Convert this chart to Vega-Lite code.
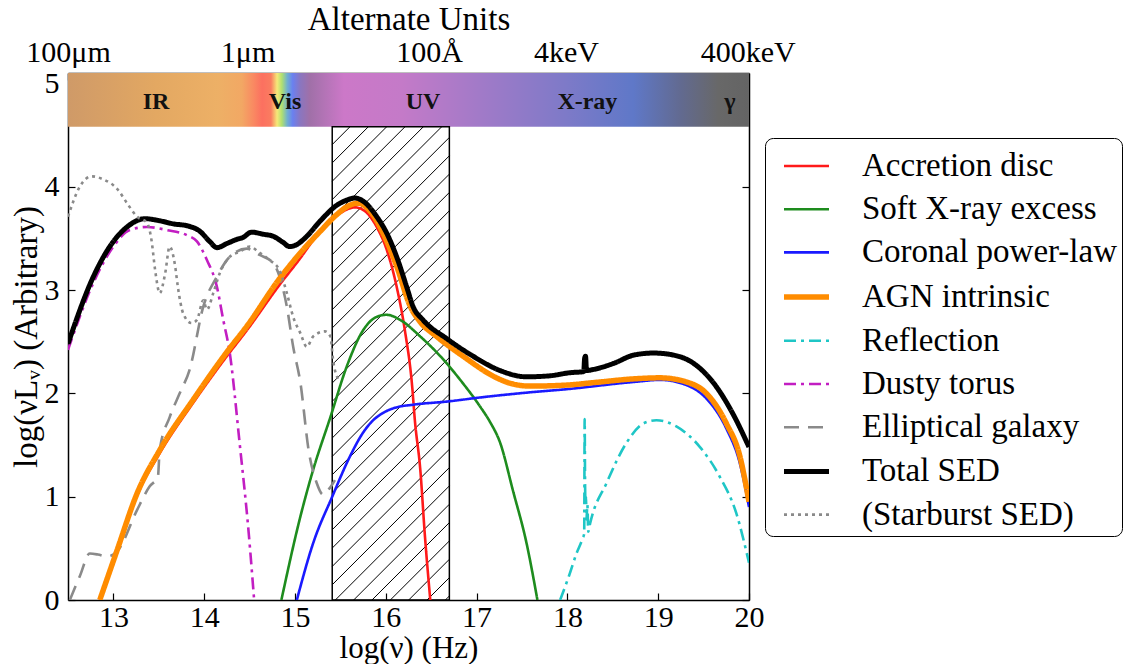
{
  "$schema": "https://vega.github.io/schema/vega-lite/v6.json",
  "width": 681,
  "height": 527,
  "autosize": {"type": "none"},
  "padding": {"left": 68, "top": 73, "right": 387, "bottom": 64},
  "background": "white",
  "config": {
    "view": {"stroke": null},
    "font": "Liberation Serif",
    "axis": {
      "grid": false, "domainColor": "#000", "domainWidth": 1.5,
      "tickColor": "#000", "tickWidth": 1.2, "tickSize": -7,
      "labelColor": "#000", "labelFont": "Liberation Serif", "labelFontSize": 30,
      "titleFont": "Liberation Serif", "titleFontSize": 33, "titleFontWeight": "normal",
      "titleColor": "#000", "labelFlush": false, "labelOverlap": false, "zindex": 1
    },
    "legend": {
      "orient": "none", "legendX": 697, "legendY": 65,
      "padding": 4, "symbolOffset": 12, "labelOffset": 30, "rowPadding": 2.2,
      "labelFont": "Liberation Serif", "labelFontSize": 33, "labelColor": "#000", "labelLimit": 400,
      "symbolSize": 2025, "symbolType": "stroke",
      "strokeColor": "#000", "cornerRadius": 8, "fillColor": "#fff"
    }
  },
  "datasets": {
    "sed": [
      {"s":"Accretion disc","x":12.85,"y":0},{"s":"Accretion disc","x":13.04,"y":0.46},{"s":"Accretion disc","x":13.26,"y":1.01},{"s":"Accretion disc","x":13.51,"y":1.42},{"s":"Accretion disc","x":13.88,"y":1.91},{"s":"Accretion disc","x":14.25,"y":2.36},{"s":"Accretion disc","x":14.47,"y":2.61},{"s":"Accretion disc","x":14.83,"y":3.05},{"s":"Accretion disc","x":15.06,"y":3.31},{"s":"Accretion disc","x":15.2,"y":3.48},{"s":"Accretion disc","x":15.42,"y":3.69},{"s":"Accretion disc","x":15.55,"y":3.77},{"s":"Accretion disc","x":15.66,"y":3.8},{"s":"Accretion disc","x":15.76,"y":3.77},{"s":"Accretion disc","x":15.9,"y":3.61},{"s":"Accretion disc","x":16.01,"y":3.39},{"s":"Accretion disc","x":16.12,"y":3.03},{"s":"Accretion disc","x":16.21,"y":2.61},{"s":"Accretion disc","x":16.29,"y":2.07},{"s":"Accretion disc","x":16.32,"y":1.74},{"s":"Accretion disc","x":16.38,"y":1.26},{"s":"Accretion disc","x":16.43,"y":0.63},{"s":"Accretion disc","x":16.49,"y":0},

      {"s":"Soft X-ray excess","x":14.85,"y":0},{"s":"Soft X-ray excess","x":15.06,"y":0.81},{"s":"Soft X-ray excess","x":15.2,"y":1.26},{"s":"Soft X-ray excess","x":15.39,"y":1.77},{"s":"Soft X-ray excess","x":15.57,"y":2.26},{"s":"Soft X-ray excess","x":15.75,"y":2.61},{"s":"Soft X-ray excess","x":15.9,"y":2.74},{"s":"Soft X-ray excess","x":16.01,"y":2.76},{"s":"Soft X-ray excess","x":16.16,"y":2.71},{"s":"Soft X-ray excess","x":16.38,"y":2.55},{"s":"Soft X-ray excess","x":16.6,"y":2.36},{"s":"Soft X-ray excess","x":16.82,"y":2.13},{"s":"Soft X-ray excess","x":17.04,"y":1.87},{"s":"Soft X-ray excess","x":17.15,"y":1.72},{"s":"Soft X-ray excess","x":17.26,"y":1.52},{"s":"Soft X-ray excess","x":17.4,"y":1.06},{"s":"Soft X-ray excess","x":17.55,"y":0.55},{"s":"Soft X-ray excess","x":17.67,"y":0},

      {"s":"Coronal power-law","x":15.02,"y":0},{"s":"Coronal power-law","x":15.2,"y":0.55},{"s":"Coronal power-law","x":15.41,"y":1.0},{"s":"Coronal power-law","x":15.6,"y":1.38},{"s":"Coronal power-law","x":15.75,"y":1.62},{"s":"Coronal power-law","x":15.85,"y":1.73},{"s":"Coronal power-law","x":15.95,"y":1.8},{"s":"Coronal power-law","x":16.1,"y":1.86},{"s":"Coronal power-law","x":16.3,"y":1.89},{"s":"Coronal power-law","x":16.67,"y":1.92},{"s":"Coronal power-law","x":17.04,"y":1.96},{"s":"Coronal power-law","x":17.59,"y":2.01},{"s":"Coronal power-law","x":17.99,"y":2.04},{"s":"Coronal power-law","x":18.73,"y":2.11},{"s":"Coronal power-law","x":19.02,"y":2.13},{"s":"Coronal power-law","x":19.31,"y":2.08},{"s":"Coronal power-law","x":19.53,"y":1.95},{"s":"Coronal power-law","x":19.75,"y":1.66},{"s":"Coronal power-law","x":19.9,"y":1.32},{"s":"Coronal power-law","x":20.0,"y":0.9},

      {"s":"AGN intrinsic","x":12.85,"y":0},{"s":"AGN intrinsic","x":13.04,"y":0.48},{"s":"AGN intrinsic","x":13.26,"y":1.03},{"s":"AGN intrinsic","x":13.51,"y":1.45},{"s":"AGN intrinsic","x":13.88,"y":1.94},{"s":"AGN intrinsic","x":14.25,"y":2.4},{"s":"AGN intrinsic","x":14.47,"y":2.65},{"s":"AGN intrinsic","x":14.83,"y":3.11},{"s":"AGN intrinsic","x":15.06,"y":3.36},{"s":"AGN intrinsic","x":15.28,"y":3.57},{"s":"AGN intrinsic","x":15.46,"y":3.73},{"s":"AGN intrinsic","x":15.6,"y":3.82},{"s":"AGN intrinsic","x":15.7,"y":3.84},{"s":"AGN intrinsic","x":15.83,"y":3.76},{"s":"AGN intrinsic","x":15.97,"y":3.55},{"s":"AGN intrinsic","x":16.12,"y":3.23},{"s":"AGN intrinsic","x":16.27,"y":2.84},{"s":"AGN intrinsic","x":16.38,"y":2.69},{"s":"AGN intrinsic","x":16.56,"y":2.55},{"s":"AGN intrinsic","x":16.85,"y":2.36},{"s":"AGN intrinsic","x":17.22,"y":2.15},{"s":"AGN intrinsic","x":17.4,"y":2.09},{"s":"AGN intrinsic","x":17.59,"y":2.07},{"s":"AGN intrinsic","x":17.99,"y":2.08},{"s":"AGN intrinsic","x":18.36,"y":2.11},{"s":"AGN intrinsic","x":18.73,"y":2.14},{"s":"AGN intrinsic","x":19.02,"y":2.15},{"s":"AGN intrinsic","x":19.31,"y":2.11},{"s":"AGN intrinsic","x":19.53,"y":2.0},{"s":"AGN intrinsic","x":19.75,"y":1.71},{"s":"AGN intrinsic","x":19.9,"y":1.39},{"s":"AGN intrinsic","x":20.0,"y":0.95},

      {"s":"Reflection","x":17.92,"y":0},{"s":"Reflection","x":18.02,"y":0.24},{"s":"Reflection","x":18.1,"y":0.45},{"s":"Reflection","x":18.17,"y":0.6},{"s":"Reflection","x":18.185,"y":0.64},{"s":"Reflection","x":18.19,"y":1.75},{"s":"Reflection","x":18.195,"y":1.1},{"s":"Reflection","x":18.2,"y":0.92},{"s":"Reflection","x":18.205,"y":1.0},{"s":"Reflection","x":18.21,"y":0.78},{"s":"Reflection","x":18.22,"y":0.92},{"s":"Reflection","x":18.23,"y":0.66},{"s":"Reflection","x":18.25,"y":0.74},{"s":"Reflection","x":18.43,"y":1.13},{"s":"Reflection","x":18.65,"y":1.52},{"s":"Reflection","x":18.84,"y":1.71},{"s":"Reflection","x":18.98,"y":1.74},{"s":"Reflection","x":19.2,"y":1.68},{"s":"Reflection","x":19.46,"y":1.48},{"s":"Reflection","x":19.68,"y":1.19},{"s":"Reflection","x":19.86,"y":0.84},{"s":"Reflection","x":20.0,"y":0.36},

      {"s":"Dusty torus","x":12.5,"y":2.42},{"s":"Dusty torus","x":12.78,"y":3.07},{"s":"Dusty torus","x":13.0,"y":3.42},{"s":"Dusty torus","x":13.18,"y":3.58},{"s":"Dusty torus","x":13.37,"y":3.61},{"s":"Dusty torus","x":13.59,"y":3.58},{"s":"Dusty torus","x":13.81,"y":3.53},{"s":"Dusty torus","x":13.92,"y":3.47},{"s":"Dusty torus","x":14.03,"y":3.29},{"s":"Dusty torus","x":14.14,"y":3.03},{"s":"Dusty torus","x":14.21,"y":2.71},{"s":"Dusty torus","x":14.28,"y":2.4},{"s":"Dusty torus","x":14.39,"y":1.52},{"s":"Dusty torus","x":14.49,"y":0.65},{"s":"Dusty torus","x":14.55,"y":0},

      {"s":"Elliptical galaxy","x":12.52,"y":0},{"s":"Elliptical galaxy","x":12.63,"y":0.23},{"s":"Elliptical galaxy","x":12.74,"y":0.45},{"s":"Elliptical galaxy","x":12.83,"y":0.44},{"s":"Elliptical galaxy","x":12.93,"y":0.42},{"s":"Elliptical galaxy","x":13.05,"y":0.48},{"s":"Elliptical galaxy","x":13.26,"y":0.87},{"s":"Elliptical galaxy","x":13.4,"y":1.1},{"s":"Elliptical galaxy","x":13.49,"y":1.19},{"s":"Elliptical galaxy","x":13.51,"y":1.45},{"s":"Elliptical galaxy","x":13.62,"y":1.77},{"s":"Elliptical galaxy","x":13.73,"y":2.0},{"s":"Elliptical galaxy","x":13.84,"y":2.23},{"s":"Elliptical galaxy","x":13.99,"y":2.84},{"s":"Elliptical galaxy","x":14.14,"y":3.13},{"s":"Elliptical galaxy","x":14.28,"y":3.32},{"s":"Elliptical galaxy","x":14.47,"y":3.4},{"s":"Elliptical galaxy","x":14.61,"y":3.34},{"s":"Elliptical galaxy","x":14.76,"y":3.26},{"s":"Elliptical galaxy","x":14.83,"y":3.13},{"s":"Elliptical galaxy","x":14.91,"y":2.84},{"s":"Elliptical galaxy","x":14.98,"y":2.45},{"s":"Elliptical galaxy","x":15.06,"y":2.1},{"s":"Elliptical galaxy","x":15.15,"y":1.45},{"s":"Elliptical galaxy","x":15.24,"y":1.13},{"s":"Elliptical galaxy","x":15.31,"y":1.02},{"s":"Elliptical galaxy","x":15.38,"y":1.08},{"s":"Elliptical galaxy","x":15.44,"y":1.16},

      {"s":"Total SED","x":12.5,"y":2.48},{"s":"Total SED","x":12.78,"y":3.13},{"s":"Total SED","x":12.96,"y":3.42},{"s":"Total SED","x":13.15,"y":3.61},{"s":"Total SED","x":13.35,"y":3.69},{"s":"Total SED","x":13.51,"y":3.67},{"s":"Total SED","x":13.66,"y":3.64},{"s":"Total SED","x":13.82,"y":3.62},{"s":"Total SED","x":13.95,"y":3.57},{"s":"Total SED","x":14.06,"y":3.47},{"s":"Total SED","x":14.14,"y":3.41},{"s":"Total SED","x":14.25,"y":3.45},{"s":"Total SED","x":14.36,"y":3.49},{"s":"Total SED","x":14.43,"y":3.51},{"s":"Total SED","x":14.52,"y":3.56},{"s":"Total SED","x":14.65,"y":3.54},{"s":"Total SED","x":14.76,"y":3.52},{"s":"Total SED","x":14.87,"y":3.46},{"s":"Total SED","x":14.94,"y":3.42},{"s":"Total SED","x":15.02,"y":3.44},{"s":"Total SED","x":15.13,"y":3.52},{"s":"Total SED","x":15.28,"y":3.67},{"s":"Total SED","x":15.46,"y":3.82},{"s":"Total SED","x":15.57,"y":3.87},{"s":"Total SED","x":15.66,"y":3.89},{"s":"Total SED","x":15.75,"y":3.86},{"s":"Total SED","x":15.9,"y":3.71},{"s":"Total SED","x":16.01,"y":3.55},{"s":"Total SED","x":16.12,"y":3.32},{"s":"Total SED","x":16.23,"y":3.03},{"s":"Total SED","x":16.3,"y":2.84},{"s":"Total SED","x":16.41,"y":2.71},{"s":"Total SED","x":16.67,"y":2.53},{"s":"Total SED","x":16.96,"y":2.36},{"s":"Total SED","x":17.26,"y":2.22},{"s":"Total SED","x":17.55,"y":2.16},{"s":"Total SED","x":17.81,"y":2.17},{"s":"Total SED","x":18.03,"y":2.2},{"s":"Total SED","x":18.18,"y":2.21},{"s":"Total SED","x":18.19,"y":2.34},{"s":"Total SED","x":18.2,"y":2.36},{"s":"Total SED","x":18.21,"y":2.22},{"s":"Total SED","x":18.28,"y":2.23},{"s":"Total SED","x":18.51,"y":2.29},{"s":"Total SED","x":18.73,"y":2.37},{"s":"Total SED","x":18.95,"y":2.39},{"s":"Total SED","x":19.17,"y":2.37},{"s":"Total SED","x":19.39,"y":2.29},{"s":"Total SED","x":19.61,"y":2.1},{"s":"Total SED","x":19.83,"y":1.79},{"s":"Total SED","x":20.0,"y":1.48},

      {"s":"(Starburst SED)","x":12.5,"y":3.71},{"s":"(Starburst SED)","x":12.63,"y":4.0},{"s":"(Starburst SED)","x":12.76,"y":4.1},{"s":"(Starburst SED)","x":12.89,"y":4.07},{"s":"(Starburst SED)","x":13.05,"y":3.97},{"s":"(Starburst SED)","x":13.15,"y":3.84},{"s":"(Starburst SED)","x":13.26,"y":3.71},{"s":"(Starburst SED)","x":13.37,"y":3.65},{"s":"(Starburst SED)","x":13.42,"y":3.48},{"s":"(Starburst SED)","x":13.46,"y":3.19},{"s":"(Starburst SED)","x":13.51,"y":2.97},{"s":"(Starburst SED)","x":13.57,"y":3.16},{"s":"(Starburst SED)","x":13.62,"y":3.42},{"s":"(Starburst SED)","x":13.68,"y":3.23},{"s":"(Starburst SED)","x":13.71,"y":3.03},{"s":"(Starburst SED)","x":13.77,"y":2.77},{"s":"(Starburst SED)","x":13.86,"y":2.68},{"s":"(Starburst SED)","x":13.92,"y":2.71},{"s":"(Starburst SED)","x":13.99,"y":2.9},{"s":"(Starburst SED)","x":14.03,"y":2.81},{"s":"(Starburst SED)","x":14.1,"y":2.97},{"s":"(Starburst SED)","x":14.17,"y":3.16},{"s":"(Starburst SED)","x":14.28,"y":3.32},{"s":"(Starburst SED)","x":14.39,"y":3.37},{"s":"(Starburst SED)","x":14.5,"y":3.42},{"s":"(Starburst SED)","x":14.61,"y":3.36},{"s":"(Starburst SED)","x":14.72,"y":3.29},{"s":"(Starburst SED)","x":14.83,"y":3.19},{"s":"(Starburst SED)","x":14.91,"y":2.97},{"s":"(Starburst SED)","x":14.98,"y":2.74},{"s":"(Starburst SED)","x":15.06,"y":2.58},{"s":"(Starburst SED)","x":15.13,"y":2.45},{"s":"(Starburst SED)","x":15.2,"y":2.55},{"s":"(Starburst SED)","x":15.33,"y":2.6},{"s":"(Starburst SED)","x":15.39,"y":2.55},{"s":"(Starburst SED)","x":15.42,"y":2.32},{"s":"(Starburst SED)","x":15.48,"y":2.13}
    ],
    "hatch": [
      {"x":16.656,"y":0,"x2":16.7,"y2":0.039},{"x":16.454,"y":0,"x2":16.7,"y2":0.2165},{"x":16.252,"y":0,"x2":16.7,"y2":0.394},{"x":16.05,"y":0,"x2":16.7,"y2":0.5715},{"x":15.848,"y":0,"x2":16.7,"y2":0.749},{"x":15.646,"y":0,"x2":16.7,"y2":0.9265},{"x":15.444,"y":0,"x2":16.7,"y2":1.104},
      {"x":15.41,"y":0.1475,"x2":16.7,"y2":1.2815},{"x":15.41,"y":0.325,"x2":16.7,"y2":1.459},{"x":15.41,"y":0.5025,"x2":16.7,"y2":1.6365},{"x":15.41,"y":0.68,"x2":16.7,"y2":1.814},{"x":15.41,"y":0.8575,"x2":16.7,"y2":1.9915},{"x":15.41,"y":1.035,"x2":16.7,"y2":2.169},{"x":15.41,"y":1.2125,"x2":16.7,"y2":2.3465},{"x":15.41,"y":1.39,"x2":16.7,"y2":2.524},{"x":15.41,"y":1.5675,"x2":16.7,"y2":2.7015},{"x":15.41,"y":1.745,"x2":16.7,"y2":2.879},{"x":15.41,"y":1.9225,"x2":16.7,"y2":3.0565},{"x":15.41,"y":2.1,"x2":16.7,"y2":3.234},{"x":15.41,"y":2.2775,"x2":16.7,"y2":3.4115},{"x":15.41,"y":2.455,"x2":16.7,"y2":3.589},{"x":15.41,"y":2.6325,"x2":16.7,"y2":3.7665},{"x":15.41,"y":2.81,"x2":16.7,"y2":3.944},{"x":15.41,"y":2.9875,"x2":16.7,"y2":4.1215},{"x":15.41,"y":3.165,"x2":16.7,"y2":4.299},{"x":15.41,"y":3.3425,"x2":16.7,"y2":4.4765},
      {"x":15.41,"y":3.52,"x2":16.616,"y2":4.58},{"x":15.41,"y":3.6975,"x2":16.414,"y2":4.58},{"x":15.41,"y":3.875,"x2":16.212,"y2":4.58},{"x":15.41,"y":4.0525,"x2":16.01,"y2":4.58},{"x":15.41,"y":4.23,"x2":15.808,"y2":4.58},{"x":15.41,"y":4.4075,"x2":15.606,"y2":4.58}
    ]
  },
  "layer": [
    {
      "data": {"values": [{"x": 12.5, "x2": 20, "y": 4.58, "y2": 5.1}]},
      "mark": {
        "type": "rect", "strokeWidth": 0,
        "fill": {
          "gradient": "linear", "x1": 0, "y1": 0, "x2": 1, "y2": 0,
          "stops": [
            {"offset": 0, "color": "#cf9a68"},
            {"offset": 0.13, "color": "#e3a862"},
            {"offset": 0.22, "color": "#edb066"},
            {"offset": 0.255, "color": "#f2a864"},
            {"offset": 0.272, "color": "#f98a62"},
            {"offset": 0.285, "color": "#fc7060"},
            {"offset": 0.298, "color": "#fa7c60"},
            {"offset": 0.307, "color": "#f6e878"},
            {"offset": 0.314, "color": "#b0e070"},
            {"offset": 0.322, "color": "#70b0d0"},
            {"offset": 0.33, "color": "#6a80f0"},
            {"offset": 0.341, "color": "#8a76c0"},
            {"offset": 0.355, "color": "#a070a8"},
            {"offset": 0.405, "color": "#cc78c8"},
            {"offset": 0.49, "color": "#c47ac8"},
            {"offset": 0.61, "color": "#a07ac8"},
            {"offset": 0.73, "color": "#7e7ac8"},
            {"offset": 0.83, "color": "#5f78c8"},
            {"offset": 0.9, "color": "#626a90"},
            {"offset": 0.955, "color": "#686868"},
            {"offset": 1, "color": "#646464"}
          ]
        }
      },
      "encoding": {
        "x": {"field": "x", "type": "quantitative", "scale": {"domain": [12.5, 20], "nice": false, "zero": false},
              "axis": {"orient": "bottom", "values": [13, 14, 15, 16, 17, 18, 19, 20], "format": "d",
                       "title": "log(ν) (Hz)", "titleFontSize": 31, "labelPadding": 9, "titleY": 57, "titleBaseline": "alphabetic"}},
        "x2": {"field": "x2"},
        "y": {"field": "y", "type": "quantitative", "scale": {"domain": [0, 5.1], "nice": false, "zero": false},
              "axis": {"orient": "left", "values": [0, 1, 2, 3, 4, 5], "format": "d",
                       "title": "log(νLᵥ) (Arbitrary)", "labelPadding": 16, "titleX": -32, "titleBaseline": "alphabetic"}},
        "y2": {"field": "y2"}
      }
    },
    {
      "data": {"values": [
        {"x": 13.47, "y": 4.82, "t": "IR"},
        {"x": 14.89, "y": 4.82, "t": "Vis"},
        {"x": 16.41, "y": 4.82, "t": "UV"},
        {"x": 18.22, "y": 4.82, "t": "X-ray"},
        {"x": 19.79, "y": 4.82, "t": "γ"}
      ]},
      "mark": {"type": "text", "font": "Liberation Serif", "fontSize": 24, "fontWeight": "bold", "color": "#111", "baseline": "middle", "align": "center"},
      "encoding": {
        "x": {"field": "x", "type": "quantitative", "axis": null},
        "y": {"field": "y", "type": "quantitative", "axis": null},
        "text": {"field": "t"}
      }
    },
    {
      "data": {"values": [{"x": 15.41, "x2": 16.7, "y": 0, "y2": 4.58}]},
      "mark": {"type": "rect", "fill": "#fff", "fillOpacity": 0, "stroke": "#000", "strokeWidth": 1.5},
      "encoding": {
        "x": {"field": "x", "type": "quantitative",
              "axis": {"orient": "top", "values": [12.5, 14.477, 16.477, 17.985, 19.985],
                       "labelExpr": "datum.value < 13 ? '100μm' : datum.value < 15 ? '1μm' : datum.value < 17 ? '100Å' : datum.value < 19 ? '4keV' : '400keV'",
                       "title": "Alternate Units", "labelBaseline": "alphabetic", "labelPadding": 19,
                       "titleY": -44, "titleBaseline": "alphabetic"}},
        "x2": {"field": "x2"},
        "y": {"field": "y", "type": "quantitative",
              "axis": {"orient": "right", "values": [0, 1, 2, 3, 4, 5], "labels": false, "title": null}},
        "y2": {"field": "y2"}
      }
    },
    {
      "data": {"name": "hatch"},
      "mark": {"type": "rule", "color": "#000", "strokeWidth": 1},
      "encoding": {
        "x": {"field": "x", "type": "quantitative", "axis": null},
        "y": {"field": "y", "type": "quantitative", "axis": null},
        "x2": {"field": "x2"},
        "y2": {"field": "y2"}
      }
    },
    {
      "data": {"name": "sed"},
      "transform": [{"filter": {"field": "s", "oneOf": ["Accretion disc", "Soft X-ray excess", "Coronal power-law", "Reflection", "Dusty torus", "Elliptical galaxy"]}}],
      "mark": {"type": "line", "interpolate": "monotone", "clip": true, "strokeJoin": "round"},
      "encoding": {
        "x": {"field": "x", "type": "quantitative", "axis": null},
        "y": {"field": "y", "type": "quantitative", "axis": null},
        "color": {"field": "s", "type": "nominal", "legend": {"title": null},
                  "scale": {"domain": ["Accretion disc", "Soft X-ray excess", "Coronal power-law", "AGN intrinsic", "Reflection", "Dusty torus", "Elliptical galaxy", "Total SED", "(Starburst SED)"],
                            "range": ["#ff1a1a", "#1e8c1e", "#1a1aff", "#ff8c00", "#1fc6c6", "#c21ec2", "#8a8a8a", "#000000", "#8a8a8a"]}},
        "strokeDash": {"field": "s", "type": "nominal", "legend": {"title": null},
                  "scale": {"domain": ["Accretion disc", "Soft X-ray excess", "Coronal power-law", "AGN intrinsic", "Reflection", "Dusty torus", "Elliptical galaxy", "Total SED", "(Starburst SED)"],
                            "range": [[1, 0], [1, 0], [1, 0], [1, 0], [12, 5, 3, 5], [12, 5, 3, 5], [15, 9], [1, 0], [3, 4]]}},
        "strokeWidth": {"field": "s", "type": "nominal", "legend": {"title": null},
                  "scale": {"type": "ordinal", "domain": ["Accretion disc", "Soft X-ray excess", "Coronal power-law", "AGN intrinsic", "Reflection", "Dusty torus", "Elliptical galaxy", "Total SED", "(Starburst SED)"],
                            "range": [2.6, 2.6, 2.6, 5.5, 2.6, 2.6, 2.6, 5, 2.6]}}
      }
    },
    {
      "data": {"name": "sed"},
      "transform": [{"filter": {"field": "s", "oneOf": ["AGN intrinsic"]}}],
      "mark": {"type": "line", "interpolate": "monotone", "clip": true, "strokeJoin": "round"},
      "encoding": {
        "x": {"field": "x", "type": "quantitative", "axis": null},
        "y": {"field": "y", "type": "quantitative", "axis": null},
        "color": {"field": "s", "type": "nominal", "legend": {"title": null},
                  "scale": {"domain": ["Accretion disc", "Soft X-ray excess", "Coronal power-law", "AGN intrinsic", "Reflection", "Dusty torus", "Elliptical galaxy", "Total SED", "(Starburst SED)"],
                            "range": ["#ff1a1a", "#1e8c1e", "#1a1aff", "#ff8c00", "#1fc6c6", "#c21ec2", "#8a8a8a", "#000000", "#8a8a8a"]}},
        "strokeDash": {"field": "s", "type": "nominal", "legend": {"title": null},
                  "scale": {"domain": ["Accretion disc", "Soft X-ray excess", "Coronal power-law", "AGN intrinsic", "Reflection", "Dusty torus", "Elliptical galaxy", "Total SED", "(Starburst SED)"],
                            "range": [[1, 0], [1, 0], [1, 0], [1, 0], [12, 5, 3, 5], [12, 5, 3, 5], [15, 9], [1, 0], [3, 4]]}},
        "strokeWidth": {"field": "s", "type": "nominal", "legend": {"title": null},
                  "scale": {"type": "ordinal", "domain": ["Accretion disc", "Soft X-ray excess", "Coronal power-law", "AGN intrinsic", "Reflection", "Dusty torus", "Elliptical galaxy", "Total SED", "(Starburst SED)"],
                            "range": [2.6, 2.6, 2.6, 5.5, 2.6, 2.6, 2.6, 5, 2.6]}}
      }
    },
    {
      "data": {"name": "sed"},
      "transform": [{"filter": {"field": "s", "oneOf": ["Total SED"]}}],
      "mark": {"type": "line", "interpolate": "monotone", "clip": true, "strokeJoin": "round"},
      "encoding": {
        "x": {"field": "x", "type": "quantitative", "axis": null},
        "y": {"field": "y", "type": "quantitative", "axis": null},
        "color": {"field": "s", "type": "nominal", "legend": {"title": null},
                  "scale": {"domain": ["Accretion disc", "Soft X-ray excess", "Coronal power-law", "AGN intrinsic", "Reflection", "Dusty torus", "Elliptical galaxy", "Total SED", "(Starburst SED)"],
                            "range": ["#ff1a1a", "#1e8c1e", "#1a1aff", "#ff8c00", "#1fc6c6", "#c21ec2", "#8a8a8a", "#000000", "#8a8a8a"]}},
        "strokeDash": {"field": "s", "type": "nominal", "legend": {"title": null},
                  "scale": {"domain": ["Accretion disc", "Soft X-ray excess", "Coronal power-law", "AGN intrinsic", "Reflection", "Dusty torus", "Elliptical galaxy", "Total SED", "(Starburst SED)"],
                            "range": [[1, 0], [1, 0], [1, 0], [1, 0], [12, 5, 3, 5], [12, 5, 3, 5], [15, 9], [1, 0], [3, 4]]}},
        "strokeWidth": {"field": "s", "type": "nominal", "legend": {"title": null},
                  "scale": {"type": "ordinal", "domain": ["Accretion disc", "Soft X-ray excess", "Coronal power-law", "AGN intrinsic", "Reflection", "Dusty torus", "Elliptical galaxy", "Total SED", "(Starburst SED)"],
                            "range": [2.6, 2.6, 2.6, 5.5, 2.6, 2.6, 2.6, 5, 2.6]}}
      }
    },
    {
      "data": {"name": "sed"},
      "transform": [{"filter": {"field": "s", "oneOf": ["(Starburst SED)"]}}],
      "mark": {"type": "line", "interpolate": "monotone", "clip": true, "strokeJoin": "round"},
      "encoding": {
        "x": {"field": "x", "type": "quantitative", "axis": null},
        "y": {"field": "y", "type": "quantitative", "axis": null},
        "color": {"field": "s", "type": "nominal", "legend": {"title": null},
                  "scale": {"domain": ["Accretion disc", "Soft X-ray excess", "Coronal power-law", "AGN intrinsic", "Reflection", "Dusty torus", "Elliptical galaxy", "Total SED", "(Starburst SED)"],
                            "range": ["#ff1a1a", "#1e8c1e", "#1a1aff", "#ff8c00", "#1fc6c6", "#c21ec2", "#8a8a8a", "#000000", "#8a8a8a"]}},
        "strokeDash": {"field": "s", "type": "nominal", "legend": {"title": null},
                  "scale": {"domain": ["Accretion disc", "Soft X-ray excess", "Coronal power-law", "AGN intrinsic", "Reflection", "Dusty torus", "Elliptical galaxy", "Total SED", "(Starburst SED)"],
                            "range": [[1, 0], [1, 0], [1, 0], [1, 0], [12, 5, 3, 5], [12, 5, 3, 5], [15, 9], [1, 0], [3, 4]]}},
        "strokeWidth": {"field": "s", "type": "nominal", "legend": {"title": null},
                  "scale": {"type": "ordinal", "domain": ["Accretion disc", "Soft X-ray excess", "Coronal power-law", "AGN intrinsic", "Reflection", "Dusty torus", "Elliptical galaxy", "Total SED", "(Starburst SED)"],
                            "range": [2.6, 2.6, 2.6, 5.5, 2.6, 2.6, 2.6, 5, 2.6]}}
      }
    }
  ]
}
